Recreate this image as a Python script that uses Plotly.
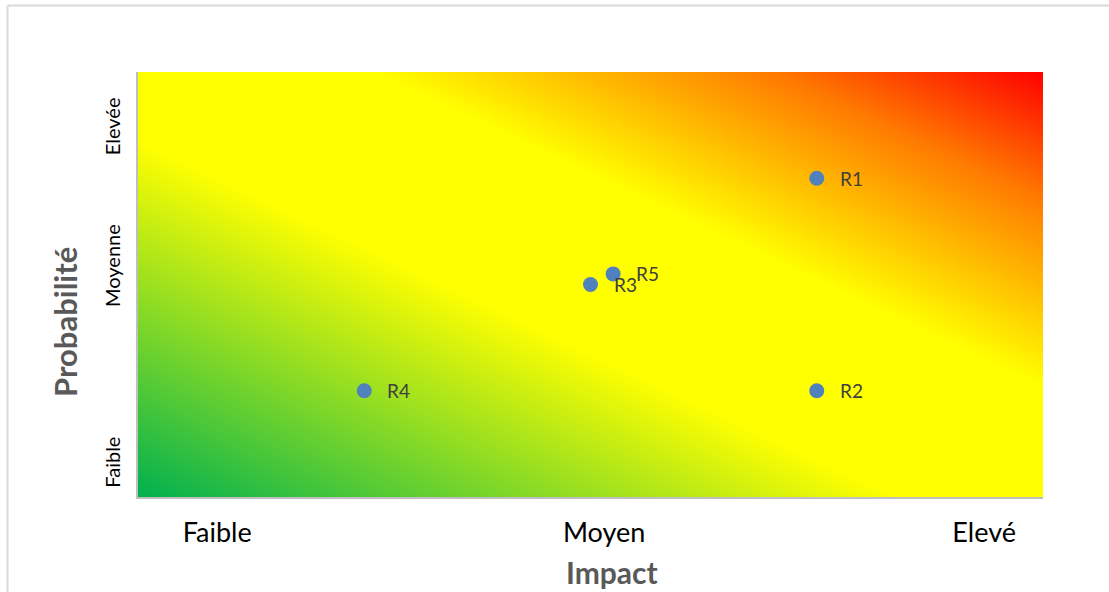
import numpy as np
import plotly.graph_objects as go

# ---- data ----
risk_names = ["R1", "R2", "R3", "R4", "R5"]
impact_vals = [3.0, 3.0, 2.0, 1.0, 2.1]
proba_vals = [3.0, 1.0, 2.0, 1.0, 2.1]

x_tick_vals = [0.35, 2.06, 3.74]
x_tick_text = ["Faible", "Moyen", "Elevé"]
y_tick_vals = [0.30, 2.15, 3.46]
y_tick_text = ["Faible", "Moyenne", "Elevée"]

x_title = "Impact"
y_title = "Probabilité"

axis_min, axis_max = 0, 4

# ---- background gradient (diagonal, scaled with the plot area) ----
grid = np.linspace(axis_min, axis_max, 161)
gx, gy = np.meshgrid(grid, grid)
gz = gx / axis_max + gy / axis_max  # 0 (bottom-left) .. 2 (top-right)

colorscale = [
    [0.0, "#00B050"],
    [0.42, "#FFFF00"],
    [0.63, "#FFFF00"],
    [0.85, "#FF7A00"],
    [1.0, "#FF0000"],
]

FONT = "Lato"

fig = go.Figure()
fig.add_trace(go.Heatmap(
    x=grid, y=grid, z=gz, zmin=0, zmax=2,
    colorscale=colorscale, showscale=False, zsmooth="best",
    hoverinfo="skip",
))
fig.add_trace(go.Scatter(
    x=impact_vals, y=proba_vals, mode="markers",
    marker=dict(size=15, color="#4F81BD"),
    text=risk_names, hoverinfo="text", showlegend=False,
))

for name, xv, yv in zip(risk_names, impact_vals, proba_vals):
    fig.add_annotation(
        x=xv, y=yv, text=name, showarrow=False,
        xanchor="left", yanchor="middle", xshift=21,
        font=dict(family=FONT, size=19, color="#404040"),
    )

W, H = 1109, 592
L, R, T, B = 138, 66, 72, 95
pw, ph = W - L - R, H - T - B

def px_to_paper_x(px):
    return (px - L) / pw

def px_to_paper_y(py):
    return (H - B - py) / ph

# axis titles (offset like the original text boxes)
fig.add_annotation(
    xref="paper", yref="paper", x=px_to_paper_x(612), y=px_to_paper_y(572),
    text="<b>" + x_title + "</b>", showarrow=False,
    xanchor="center", yanchor="middle",
    font=dict(family=FONT, size=30, color="#595959"),
)
fig.add_annotation(
    xref="paper", yref="paper", x=px_to_paper_x(65), y=px_to_paper_y(322),
    text="<b>" + y_title + "</b>", showarrow=False, textangle=-90,
    xanchor="center", yanchor="middle",
    font=dict(family=FONT, size=31, color="#595959"),
)

# outer chart border (top and left visible)
fig.add_shape(type="line", xref="paper", yref="paper",
              x0=px_to_paper_x(7.5), x1=px_to_paper_x(1130),
              y0=px_to_paper_y(5.5), y1=px_to_paper_y(5.5),
              line=dict(color="#D9D9D9", width=2), layer="above")
fig.add_shape(type="line", xref="paper", yref="paper",
              x0=px_to_paper_x(7.5), x1=px_to_paper_x(7.5),
              y0=px_to_paper_y(5.5), y1=px_to_paper_y(620),
              line=dict(color="#D9D9D9", width=2), layer="above")

fig.update_layout(
    width=W, height=H,
    margin=dict(l=L, r=R, t=T, b=B, autoexpand=False),
    paper_bgcolor="white", plot_bgcolor="white",
    showlegend=False,
    font=dict(family=FONT, color="#000000"),
)
fig.update_xaxes(
    range=[axis_min, axis_max], showgrid=False, zeroline=False,
    showline=True, linecolor="#BFBFBF", linewidth=2,
    tickmode="array", tickvals=x_tick_vals, ticktext=x_tick_text,
    tickfont=dict(family=FONT, size=27, color="#000000"),
    ticks="", ticklabelstandoff=11,
    automargin=False,
)
fig.update_yaxes(
    range=[axis_min, axis_max], showgrid=False, zeroline=False,
    showline=True, linecolor="#BFBFBF", linewidth=2,
    tickmode="array", tickvals=y_tick_vals, ticktext=y_tick_text,
    tickfont=dict(family=FONT, size=20, color="#000000"),
    tickangle=-90, ticks="", ticklabelstandoff=8,
    automargin=False,
)

fig.write_html(
    "out.html",
    config={"displayModeBar": False},
    post_script="document.body.style.margin='0';document.body.style.overflow='hidden';",
)
